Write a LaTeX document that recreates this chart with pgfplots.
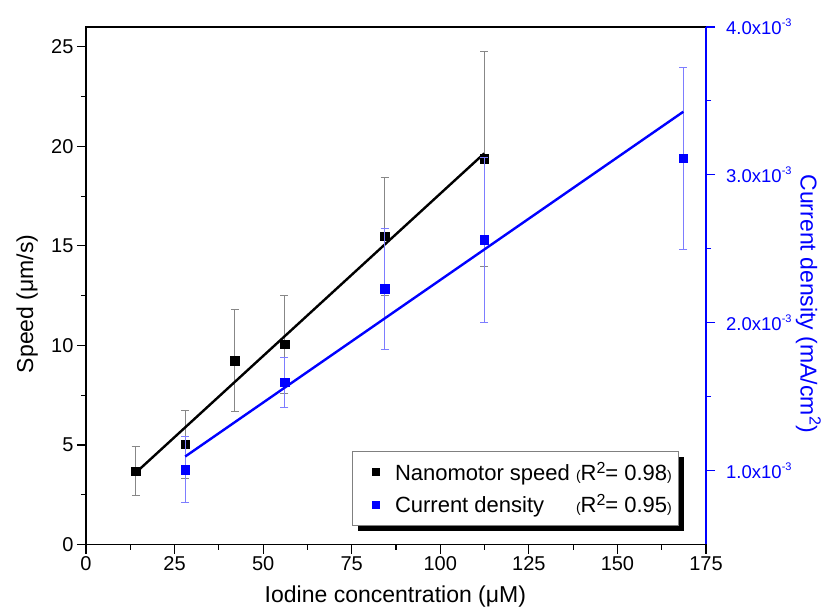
\documentclass[border=0pt]{standalone}
\usepackage{fontspec}
\setmainfont{Liberation Sans}
\usepackage{pgfplots}
\usepackage{pgfplotstable}
\pgfplotsset{compat=1.18}
\usetikzlibrary{shadows}
\definecolor{myblue}{RGB}{0,0,255}
\definecolor{lightblue}{RGB}{125,125,255}
\definecolor{errgray}{RGB}{135,135,135}

\pgfplotstableread{
x y e
14 3.69 1.25
28 5.04 1.70
42 9.24 2.57
56 10.06 2.46
84.3 15.48 2.95
112.4 19.39 5.40
}\speed

\pgfplotstableread{
x y e
28 1.007e-3 0.225e-3
56 1.598e-3 0.17e-3
84.3 2.229e-3 0.41e-3
112.4 2.56e-3 0.56e-3
168.6 3.112e-3 0.615e-3
}\current

\newcommand{\tickfont}{\fontsize{20bp}{24bp}\selectfont}
\newcommand{\rtickfont}{\fontsize{18.5bp}{22bp}\selectfont}
\newcommand{\labfont}{\fontsize{23bp}{27bp}\selectfont}
\newcommand{\legfont}{\fontsize{22bp}{25bp}\selectfont}
\newcommand{\parfont}{\fontsize{14bp}{16bp}\selectfont}
\newcommand{\expo}{\raisebox{7.5bp}{\fontsize{11bp}{11bp}\selectfont -3}}
\newcommand{\sq}{\raisebox{7bp}{\fontsize{16bp}{16bp}\selectfont 2}}
\newsavebox{\legA}

\begin{document}
\sbox{\legA}{\legfont Nanomotor speed {\parfont(}R\sq= 0.98{\parfont)}}%
\begin{tikzpicture}
\useasboundingbox (0,0) rectangle (825bp,616bp);
\begin{axis}[
  at={(86bp,71.5bp)}, anchor=south west,
  scale only axis, width=620bp, height=517.5bp,
  xmin=0, xmax=175, ymin=0, ymax=26,
  xtick={0,25,...,175}, ytick={0,5,...,25},
  minor x tick num=1, minor y tick num=1,
  tick align=outside, xtick pos=left, ytick pos=left,
  major tick length=9bp, minor tick length=5bp,
  axis line style={line width=1.3bp},
  tick style={line width=1.1bp, black},
  /pgf/number format/assume math mode=true,
  tick label style={font=\tickfont},
  xlabel={Iodine concentration (μM)},
  ylabel={Speed (μm/s)},
  every axis x label/.style={at={(axis description cs:0.499,-0.1015)}, anchor=center, font=\labfont},
  every axis y label/.style={at={(axis description cs:-0.095,0.465)}, anchor=center, rotate=90, font=\labfont},
  legend style={at={(0.4285,0.1813)}, anchor=north west, draw=gray, fill=white, line width=0.7bp,
    font=\legfont, inner xsep=4bp, inner ysep=7bp, row sep=5bp,
    nodes={inner ysep=4bp},
    drop shadow={shadow xshift=6bp, shadow yshift=-6bp, fill=black, opacity=1}},
  legend cell align=left,
  legend image code/.code={%
    \pgfpathmoveto{\pgfpoint{0bp}{0bp}}\pgfpathlineto{\pgfpoint{37bp}{0bp}}\pgfusepath{discard}%
    \draw[#1, only marks, mark size=3.6bp] plot coordinates {(20bp,0bp)};},
]
\addplot[only marks, mark=square*, mark size=4.3bp, black,
  error bars/.cd, y dir=both, y explicit,
  error bar style={errgray, line width=0.9bp},
  error mark options={errgray, rotate=90, mark size=4bp, line width=0.9bp}]
  table[x=x, y=y, y error=e] {\speed};
\addlegendentry{\usebox{\legA}}
\addplot[black, line width=2.4bp, forget plot] coordinates {(14,3.6) (112.4,19.65)};
\addlegendimage{only marks, mark=square*, myblue}
\addlegendentry{\makebox[\wd\legA][l]{Current density\hfill{\parfont(}R\sq= 0.95{\parfont)}}}
\end{axis}

\begin{axis}[
  at={(86bp,71.5bp)}, anchor=south west,
  scale only axis, width=620bp, height=517.5bp,
  xmin=0, xmax=175, ymin=0.5e-3, ymax=4.0e-3,
  axis x line=none, axis y line*=right,
  scaled y ticks=false,
  ytick={1e-3,2e-3,3e-3,4e-3},
  yticklabels={1.0x10\expo,2.0x10\expo,3.0x10\expo,4.0x10\expo},
  minor y tick num=1,
  tick align=outside,
  major tick length=9bp, minor tick length=5bp,
  y axis line style={myblue, line width=1.5bp},
  ytick style={myblue, line width=1.1bp},
  yticklabel style={myblue, font=\rtickfont, xshift=9bp, inner xsep=2bp},
  ylabel={Current density (mA/cm\textsuperscript{2})},
  every axis y label/.style={at={(axis description cs:1.165,0.465)}, anchor=center, rotate=-90, font=\labfont, text=myblue},
]
\addplot[only marks, mark=square*, mark size=4.3bp, myblue,
  error bars/.cd, y dir=both, y explicit,
  error bar style={lightblue, line width=0.9bp},
  error mark options={lightblue, rotate=90, mark size=4bp, line width=0.9bp}]
  table[x=x, y=y, y error=e] {\current};
\addplot[myblue, line width=2.4bp] coordinates {(28,1.095e-3) (168.6,3.427e-3)};
\end{axis}
\end{tikzpicture}
\end{document}
